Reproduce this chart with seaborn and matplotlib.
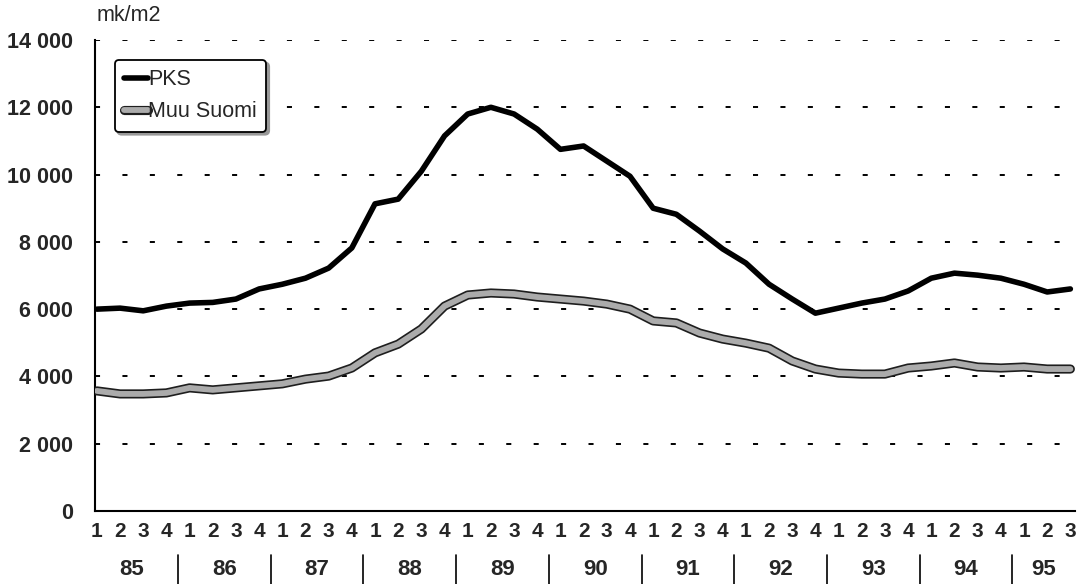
import pandas as pd
import matplotlib
matplotlib.use("Agg")
import matplotlib.pyplot as plt
import matplotlib.patheffects as pe
import seaborn as sns

# quarterly values 1985 Q1 .. 1995 Q3, mk/m2
years = ["85", "86", "87", "88", "89", "90", "91", "92", "93", "94", "95"]
quarters = [1, 2, 3, 4] * 10 + [1, 2, 3]
pks = [6000, 6030, 5950, 6090, 6180, 6200, 6300, 6600, 6740, 6920, 7220,
       7820, 9130, 9270, 10100, 11150, 11800, 12000, 11800, 11350, 10750,
       10850, 10400, 9950, 9000, 8820, 8320, 7790, 7370, 6740, 6300,
       5880, 6030, 6180, 6300, 6540, 6920, 7070, 7010, 6920, 6740,
       6510, 6600]
muu = [3570, 3480, 3480, 3510, 3660, 3600, 3660, 3720, 3780, 3920, 4010,
       4250, 4700, 4960, 5410, 6090, 6420, 6480, 6450, 6360, 6300,
       6240, 6150, 6000, 5650, 5590, 5290, 5110, 4990, 4840, 4460,
       4220, 4100, 4070, 4070, 4250, 4310, 4400, 4280, 4250, 4280,
       4220, 4220]
yticks = [0, 2000, 4000, 6000, 8000, 10000, 12000, 14000]

df = pd.DataFrame({
    "t": list(range(len(pks))) * 2,
    "value": pks + muu,
    "series": ["PKS"] * len(pks) + ["Muu Suomi"] * len(muu),
})

sns.set_style("white")
plt.rcParams['font.family'] = ['Liberation Sans', 'DejaVu Sans']

fig = plt.figure(figsize=(10.79, 5.84), dpi=100)
ax = fig.add_axes([95 / 1079, 73 / 584, 980 / 1079, 471 / 584])

sns.lineplot(data=df, x="t", y="value", hue="series",
             palette={"PKS": "black", "Muu Suomi": "#ababab"},
             ax=ax, legend=False, sort=False)

l_pks, l_muu = ax.lines[0], ax.lines[1]
l_pks.set_linewidth(4.0)
l_pks.set_solid_capstyle("round")
l_pks.set_solid_joinstyle("round")
l_muu.set_linewidth(4.2)
l_muu.set_path_effects([pe.Stroke(linewidth=6.6, foreground="#1e1e1e"), pe.Normal()])
l_muu.set_solid_capstyle("round")
l_muu.set_solid_joinstyle("round")
l_pks.set_zorder(4)
l_muu.set_zorder(3)

ax.set_ylim(0, 14000)
ax.set_xlim(-0.08, 42.2)
ax.set_yticks(yticks)
ax.set_yticklabels([f"{v:,}".replace(",", " ") for v in yticks],
                   fontsize=15.5, fontweight="bold")
for v in yticks[1:]:
    ax.axhline(v, color="black", lw=1.4, ls=(0, (2.6, 11.5)), zorder=1)

ax.set_xticks(range(len(quarters)))
ax.set_xticklabels([str(q) for q in quarters], fontsize=15, fontweight="bold")
ax.tick_params(axis="x", length=0, pad=8)
ax.tick_params(axis="y", length=3, direction="in", pad=16)
ax.set_xlabel("")
ax.set_ylabel("")

for s in ["top", "right"]:
    ax.spines[s].set_visible(False)
for s in ["left", "bottom"]:
    ax.spines[s].set_color("black")
    ax.spines[s].set_linewidth(1.5)

trans = ax.get_xaxis_transform()
for k, yr in enumerate(years):
    if k < len(years) - 1:
        xc = 4 * k + 1.5
    else:
        xc = 40.85
    ax.text(xc, -0.125, yr, transform=trans, ha="center", va="center",
            fontsize=16, fontweight="bold")
    if k > 0:
        ax.plot([4 * k - 0.5] * 2, [-0.093, -0.16], transform=trans,
                color="black", lw=1.2, clip_on=False)

ax.text(0.002, 1.03, "mk/m2", transform=ax.transAxes, ha="left", va="bottom",
        fontsize=15.5)

leg = ax.legend([l_pks, l_muu], ["PKS", "Muu Suomi"], loc="upper left",
                bbox_to_anchor=(0.02, 0.958), fontsize=15.5, frameon=True,
                fancybox=True, shadow={"color": "0.6", "alpha": 1},
                handlelength=1.1, handletextpad=0.0, borderpad=0.45,
                labelspacing=0.5, borderaxespad=0.0)
leg.get_frame().set_edgecolor("black")
leg.get_frame().set_linewidth(1.3)
leg.get_frame().set_facecolor("white")

fig.savefig("out.png", dpi=100)
